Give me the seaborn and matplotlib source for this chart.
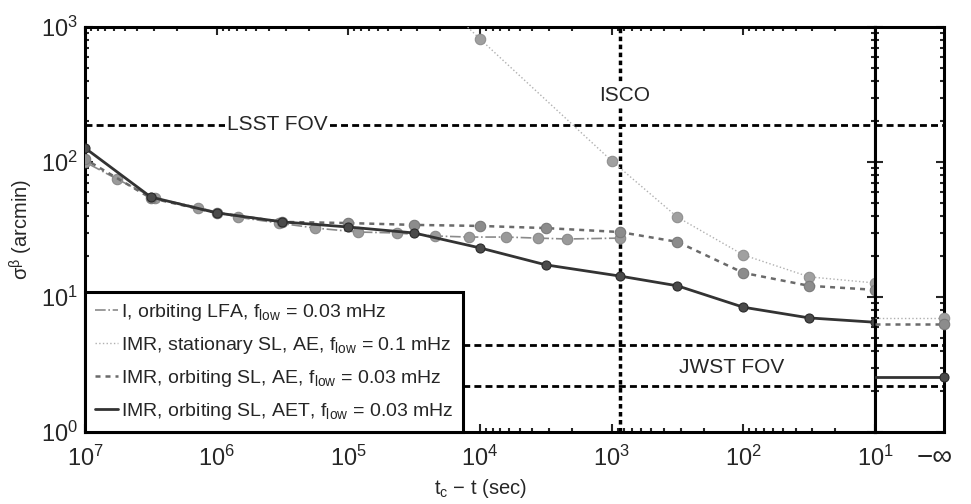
import matplotlib
matplotlib.use("Agg")
import matplotlib.pyplot as plt
import seaborn as sns
from matplotlib.lines import Line2D

# time before coalescence (sec) of the IMR runs, last one is the ISCO time
t_imr = [1e7, 10**6.5, 1e6, 10**5.5, 1e5, 10**4.5, 1e4, 10**3.5, 870, 10**2.5, 1e2, 10**1.5, 1e1]
sigma_aet = [127, 55, 42, 36, 33, 29.8, 23.1, 17.3, 14.3, 12.1, 8.4, 7.0, 6.5]
sigma_ae = [105, 54, 42, 36, 35.3, 34.2, 33.6, 32.4, 30.3, 25.6, 15.1, 12.1, 11.3]

# stationary SL, f_low = 0.1 mHz
t_stat = [10**4.5, 1e4, 1e3, 10**2.5, 1e2, 10**1.5, 1e1]
sigma_stat = [2400, 815, 102, 39, 20.5, 14.1, 12.7]

# inspiral only, orbiting LFA
t_lfa = [1e7, 10**6.76, 10**6.47, 10**6.14, 10**5.84, 10**5.53, 10**5.25, 10**4.93,
         10**4.63, 10**4.34, 10**4.08, 10**3.80, 10**3.56, 10**3.34, 870]
sigma_lfa = [100, 75, 54, 46, 39, 35.3, 32.4, 30.3, 29.8, 28.3, 27.8, 27.8, 27.3, 26.9, 27.3]

# values at t_c - t = -infinity (after merger)
inf_aet = 2.55
inf_ae = 6.3
inf_stat = 7.0

t_isco = 870
lsst_fov = 188
jwst_fov = [4.4, 2.2]

x_ticks = [1e7, 1e6, 1e5, 1e4, 1e3, 1e2, 1e1]
y_ticks = [1, 10, 100, 1000]

labels = ["I, orbiting LFA, f$_{low}$ = 0.03 mHz",
          "IMR, stationary SL, AE, f$_{low}$ = 0.1 mHz",
          "IMR, orbiting SL, AE, f$_{low}$ = 0.03 mHz",
          "IMR, orbiting SL, AET, f$_{low}$ = 0.03 mHz"]

sns.set_style("ticks")
plt.rcParams['font.family'] = ['Liberation Sans', 'DejaVu Sans']
plt.rcParams['mathtext.default'] = 'regular'

styles = [dict(color='#8a8a8a', ls='-.', lw=1.2, mfc='#9a9a9a', mec='#8a8a8a', ms=7.5),
          dict(color='#b0b0b0', ls=':', lw=1.0, mfc='#a0a0a0', mec='#909090', ms=7.5),
          dict(color='#6a6a6a', ls=(0, (2, 2)), lw=1.8, mfc='#8c8c8c', mec='#7a7a7a', ms=7.5),
          dict(color='#333333', ls='-', lw=2.0, mfc='#4a4a4a', mec='#2a2a2a', ms=6.5)]

fig = plt.figure(figsize=(9.71, 5.04), dpi=100)
ax = fig.add_axes([85/971, 1-432/504, 790/971, 405/504])
ax2 = fig.add_axes([875/971, 1-432/504, 69/971, 405/504])

ax.set_xscale('log')
ax.set_yscale('log')
ax2.set_yscale('log')

series = [(t_lfa, sigma_lfa), (t_stat, sigma_stat), (t_imr, sigma_ae), (t_imr, sigma_aet)]
for (x, y), st in zip(series, styles):
    sns.lineplot(x=x, y=y, ax=ax, color=st['color'], linestyle=st['ls'], linewidth=st['lw'],
                 marker='o', markersize=st['ms'], markerfacecolor=st['mfc'],
                 markeredgecolor=st['mec'], markeredgewidth=0.8, zorder=3)

# after-merger panel
for v, st in zip([inf_stat, inf_ae, inf_aet], styles[1:]):
    ax2.axhline(v, color=st['color'], linestyle=st['ls'], linewidth=st['lw'], zorder=3)
    ax2.plot(1, v, 'o', transform=ax2.get_yaxis_transform(), ms=st['ms'],
             mfc=st['mfc'], mec=st['mec'], mew=0.8, clip_on=False, zorder=4)

# field of view and ISCO markers
fov_kw = dict(color='k', linestyle=(0, (2.5, 1.5)), linewidth=2.0, zorder=2)
for a in (ax, ax2):
    a.axhline(lsst_fov, **fov_kw)
    for j in jwst_fov:
        a.axhline(j, **fov_kw)
ax.axvline(t_isco, color='k', linestyle=(0, (1.3, 1.0)), linewidth=2.5, zorder=2)

box = dict(facecolor='white', edgecolor='none', pad=1.5)
ax.text(10**5.54, lsst_fov, "LSST FOV", fontsize=15, ha='center', va='center', bbox=box, zorder=5)
ax.text(10**2.9, 313, "ISCO", fontsize=15, ha='center', va='center', bbox=box, zorder=5)
ax.text(10**2.09, 2.98, "JWST FOV", fontsize=15, ha='center', va='center', zorder=5)

ax.set_xticks(x_ticks)
ax.set_yticks(y_ticks)
ax2.set_yticks(y_ticks)
ax.set_xlim(1e7, 1e1)
ax.set_ylim(1, 1e3)
ax2.set_xlim(0, 1)
ax2.set_ylim(1, 1e3)

ax.tick_params(which='both', direction='in', top=True, right=True, width=1.5, labelsize=17)
ax.tick_params(which='major', length=6)
ax.tick_params(which='minor', length=3)
ax.tick_params(axis='x', which='major', pad=10)
ax.tick_params(axis='y', which='major', pad=5)
ax2.tick_params(which='both', direction='in', left=True, right=True, width=1.5,
                labelleft=False, labelsize=20)
ax2.tick_params(which='major', length=6)
ax2.tick_params(which='minor', length=3)
ax2.tick_params(axis='x', which='major', length=0, pad=9)
ax2.set_xticks([0.86])
ax2.set_xticklabels(["−∞"])
ax2.xaxis.set_minor_locator(matplotlib.ticker.NullLocator())

for a in (ax, ax2):
    for s in a.spines.values():
        s.set_linewidth(2.2)
        s.set_color('k')

ax.set_xlabel("t$_c$ − t (sec)", fontsize=14.5, labelpad=4)
ax.set_ylabel("σ$^{β}$ (arcmin)", fontsize=14.5, labelpad=4)

handles = [Line2D([], [], color=st['color'], linestyle=st['ls'], linewidth=st['lw']) for st in styles]
leg = ax.legend(handles, labels, loc='lower left', bbox_to_anchor=(0, 0), borderaxespad=0,
                fontsize=14, handlelength=1.2, handletextpad=0.15, labelspacing=0.62,
                borderpad=0.5, fancybox=False, framealpha=1)
leg.get_frame().set_edgecolor('k')
leg.get_frame().set_linewidth(2.2)
leg.set_zorder(6)

fig.savefig("out.png", dpi=100)
